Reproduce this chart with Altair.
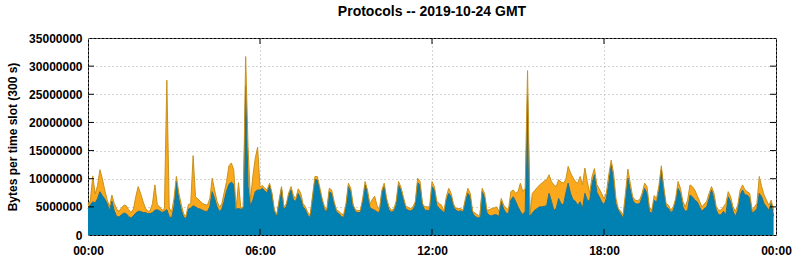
import altair as alt
import pandas as pd

# Values in millions of bytes per 5-minute slot (288 slots)
total_m = [
    5.3, 6.2, 10.5, 7.3, 8.8, 11.6, 10.0, 8.0, 6.3, 5.0, 7.1, 5.6,
    4.6, 4.2, 4.8, 5.3, 5.2, 4.5, 4.0, 4.6, 6.8, 8.6, 7.4, 6.0,
    4.8, 4.2, 4.3, 5.6, 8.9, 5.4, 5.0, 4.4, 4.7, 27.5, 4.8, 4.1,
    6.5, 10.4, 7.5, 5.5, 3.8, 3.3, 5.4, 5.6, 14.1, 6.8, 6.4, 6.0,
    5.6, 5.4, 5.3, 6.5, 10.1, 8.0, 6.0, 5.0, 5.5, 7.5, 9.5, 12.3,
    12.8, 11.6, 4.7, 9.3, 4.7, 5.0, 31.7, 15.7, 6.2, 10.4, 13.6, 15.6,
    8.5, 8.8, 8.3, 8.0, 9.2, 7.5, 4.5, 3.6, 6.2, 8.6, 5.0, 5.5,
    7.5, 8.6, 7.0, 6.5, 8.2, 7.5, 5.6, 5.0, 4.0, 3.6, 7.0, 10.4,
    10.4, 8.5, 6.5, 5.0, 4.6, 8.3, 8.0, 6.0, 4.5, 4.2, 3.8, 3.6,
    5.6, 9.2, 8.3, 5.3, 4.5, 4.3, 4.4, 6.5, 9.5, 8.0, 5.5, 6.3,
    6.9, 5.2, 4.5, 8.0, 9.2, 6.5, 5.0, 4.4, 4.6, 6.0, 9.5, 8.5,
    6.8, 5.2, 4.9, 4.7, 5.0, 5.9, 10.1, 9.5, 5.6, 5.0, 5.0, 5.0,
    9.5, 8.6, 6.0, 5.6, 5.3, 4.2, 6.8, 8.3, 7.4, 5.5, 4.7, 4.7,
    4.7, 4.4, 6.5, 8.3, 7.4, 4.2, 3.9, 3.6, 3.2, 8.3, 7.4, 4.4,
    4.5, 4.7, 4.8, 5.0, 4.2, 6.5, 5.3, 4.8, 4.5, 7.7, 8.0, 7.4,
    7.7, 9.2, 7.7, 8.3, 29.2, 3.6, 7.4, 7.9, 8.4, 8.9, 9.2, 9.6,
    9.8, 10.7, 9.5, 8.9, 8.6, 9.8, 9.4, 9.2, 9.8, 12.2, 11.0, 10.2,
    9.5, 9.2, 10.4, 8.9, 11.9, 9.5, 7.4, 10.4, 11.8, 9.0, 8.2, 7.4,
    6.4, 7.5, 10.7, 13.3, 11.0, 6.5, 4.7, 4.2, 3.6, 7.5, 11.7, 9.2,
    6.8, 6.2, 6.1, 6.3, 7.5, 9.2, 8.6, 5.0, 4.4, 7.0, 6.5, 8.8,
    12.3, 8.6, 5.6, 5.3, 4.4, 5.0, 6.5, 9.5, 8.3, 6.0, 5.0, 6.2,
    8.9, 8.6, 8.0, 7.0, 6.0, 5.0, 5.5, 6.0, 7.4, 8.6, 7.5, 5.0,
    4.4, 4.4, 5.0, 5.6, 7.7, 6.8, 5.0, 4.2, 5.3, 8.0, 8.9, 8.0,
    7.7, 7.4, 4.4, 5.0, 5.6, 10.4, 8.6, 7.1, 6.2, 5.3, 6.2, 4.4,
]
blue_m = [
    4.7, 5.4, 5.9, 5.7, 6.5, 7.7, 7.0, 6.4, 5.6, 4.3, 6.0, 4.3,
    3.3, 3.2, 3.6, 3.9, 3.8, 3.3, 3.0, 3.4, 3.9, 4.2, 4.2, 4.0,
    4.0, 3.8, 3.8, 4.0, 4.4, 4.5, 4.3, 4.0, 4.2, 4.5, 3.3, 3.0,
    5.0, 9.5, 6.5, 4.5, 3.2, 2.9, 4.6, 4.8, 5.2, 5.0, 4.7, 4.6,
    4.4, 4.2, 4.2, 5.0, 7.7, 6.5, 5.0, 4.2, 4.6, 6.0, 7.8, 9.0,
    9.4, 9.0, 4.6, 4.7, 4.6, 4.7, 26.5, 8.6, 5.2, 6.2, 7.7, 8.0,
    8.0, 8.3, 7.8, 7.5, 8.9, 7.1, 4.2, 3.3, 5.9, 8.3, 4.6, 5.0,
    7.0, 8.0, 6.2, 6.0, 7.4, 6.5, 5.0, 4.5, 3.5, 3.1, 6.5, 9.8,
    9.8, 8.0, 6.0, 4.4, 4.2, 7.7, 7.4, 5.5, 4.1, 3.8, 3.3, 3.1,
    5.0, 8.6, 7.7, 5.0, 4.1, 4.0, 4.0, 6.0, 8.9, 7.4, 4.9, 4.6,
    4.4, 4.1, 4.0, 7.4, 8.6, 5.9, 4.4, 4.1, 4.2, 5.3, 8.9, 7.9,
    6.2, 4.7, 4.4, 4.3, 4.5, 5.3, 9.3, 8.8, 5.3, 4.4, 4.4, 4.3,
    8.6, 8.0, 5.3, 4.7, 4.4, 3.9, 6.2, 7.4, 6.8, 5.0, 4.4, 4.2,
    4.3, 4.1, 6.0, 7.4, 6.8, 3.9, 3.3, 3.1, 3.0, 7.7, 6.8, 3.9,
    3.5, 3.4, 3.6, 3.6, 3.3, 5.9, 4.6, 3.9, 3.8, 6.2, 6.8, 6.0,
    5.0, 4.2, 3.6, 4.2, 24.9, 3.3, 3.9, 4.4, 4.7, 5.0, 5.0, 5.1,
    5.2, 7.4, 6.0, 4.4, 4.7, 6.5, 5.6, 5.3, 7.4, 9.2, 7.4, 6.3,
    6.0, 5.3, 5.9, 4.7, 7.4, 6.2, 6.0, 9.2, 10.7, 7.6, 6.8, 5.9,
    5.4, 6.5, 9.2, 12.5, 9.6, 5.5, 4.4, 3.7, 3.0, 6.2, 10.1, 8.0,
    6.2, 5.6, 5.5, 5.6, 6.8, 8.3, 7.4, 4.2, 3.8, 6.2, 5.8, 7.8,
    11.6, 8.0, 5.0, 4.7, 4.0, 4.4, 5.9, 8.3, 7.4, 5.0, 4.2, 4.4,
    7.1, 6.8, 6.2, 5.9, 5.0, 4.2, 4.7, 5.0, 6.5, 8.0, 6.5, 4.4,
    3.6, 3.6, 4.2, 3.6, 6.8, 5.9, 4.2, 3.3, 4.4, 7.1, 8.0, 7.1,
    7.1, 6.5, 3.9, 4.2, 4.7, 7.4, 6.8, 5.6, 5.0, 4.4, 5.6, 3.3,
]
hour_ticks = [0, 6, 12, 18, 24]
hour_labels = ["00:00", "06:00", "12:00", "18:00", "00:00"]
y_ticks = [0, 5000000, 10000000, 15000000, 20000000, 25000000, 30000000, 35000000]
title_text = "Protocols -- 2019-10-24 GMT"
y_title = "Bytes per time slot (300 s)"

W, H = 688, 197
FONT = "Liberation Sans"
BLUE = "#0081b1"
ORANGE = "#fba81c"

df = pd.DataFrame({
    "h": [i / 12 for i in range(len(total_m))],
    "blue": [v * 1e6 for v in blue_m],
    "total": [v * 1e6 for v in total_m],
})

label_expr = "[" + ",".join("'%s'" % s for s in hour_labels) + "][round(datum.value / 6)]"

xscale = alt.Scale(domain=[0, 24], nice=False, zero=False)
yscale = alt.Scale(domain=[0, 35000000], nice=False)

xaxis = alt.Axis(values=hour_ticks, labelExpr=label_expr, title=None, grid=True,
                 gridDash=[1, 3], gridColor="#a8a8a8", ticks=False, tickSize=0, domain=False,
                 labelFont=FONT, labelFontSize=12, labelFontWeight="bold", labelColor="black",
                 labelPadding=10, labelFlush=False, labelOverlap=False)
yaxis = alt.Axis(values=y_ticks, format="d", title=y_title, grid=True,
                 gridDash=[1, 3], gridColor="#a8a8a8", ticks=False, tickSize=0, domain=False,
                 labelFont=FONT, labelFontSize=12, labelFontWeight="bold", labelColor="black",
                 labelPadding=6, labelOverlap=False, titleFont=FONT, titleFontSize=12,
                 titleFontWeight="bold", titleColor="black", titlePadding=9)

base = alt.Chart(df)
orange_area = base.mark_area(color=ORANGE, opacity=1, fillOpacity=1).encode(
    x=alt.X("h:Q", scale=xscale, axis=xaxis),
    y=alt.Y("total:Q", scale=yscale, axis=yaxis),
    y2="blue:Q",
)
blue_area = base.mark_area(color=BLUE, opacity=1, fillOpacity=1,
                           line={"color": "#2b6f80", "strokeWidth": 1}).encode(
    x=alt.X("h:Q", scale=xscale, axis=xaxis),
    y=alt.Y("blue:Q", scale=yscale, axis=yaxis),
)
orange_line = base.mark_line(color="#c8921e", strokeWidth=1).encode(
    x=alt.X("h:Q", scale=xscale, axis=xaxis),
    y=alt.Y("total:Q", scale=yscale, axis=yaxis),
)

ytick_df = pd.DataFrame({"v": y_ticks[1:-1]})
xtick_df = pd.DataFrame({"h": hour_ticks[1:-1]})
left_ticks = alt.Chart(ytick_df).mark_rule(color="black").encode(
    y=alt.Y("v:Q", scale=yscale, axis=yaxis), x=alt.value(0), x2=alt.value(6))
right_ticks = alt.Chart(ytick_df).mark_rule(color="black").encode(
    y=alt.Y("v:Q", scale=yscale, axis=yaxis), x=alt.value(W - 6), x2=alt.value(W))
top_ticks = alt.Chart(xtick_df).mark_rule(color="black").encode(
    x=alt.X("h:Q", scale=xscale, axis=xaxis), y=alt.value(0), y2=alt.value(6))
bottom_ticks = alt.Chart(xtick_df).mark_rule(color="black").encode(
    x=alt.X("h:Q", scale=xscale, axis=xaxis), y=alt.value(H - 6), y2=alt.value(H))

chart = alt.layer(
    orange_area, blue_area, orange_line, left_ticks, right_ticks, top_ticks, bottom_ticks
).properties(
    width=W, height=H,
    title=alt.TitleParams(title_text, font=FONT, fontSize=14, fontWeight="bold",
                          color="black", anchor="middle", offset=13),
    autosize=alt.AutoSizeParams(type="none"),
    padding={"left": 88, "top": 38, "right": 19, "bottom": 25},
    background="white",
).configure_view(stroke="black", strokeWidth=1)

chart.save("out.html", embed_options={"renderer": "svg", "actions": False})
